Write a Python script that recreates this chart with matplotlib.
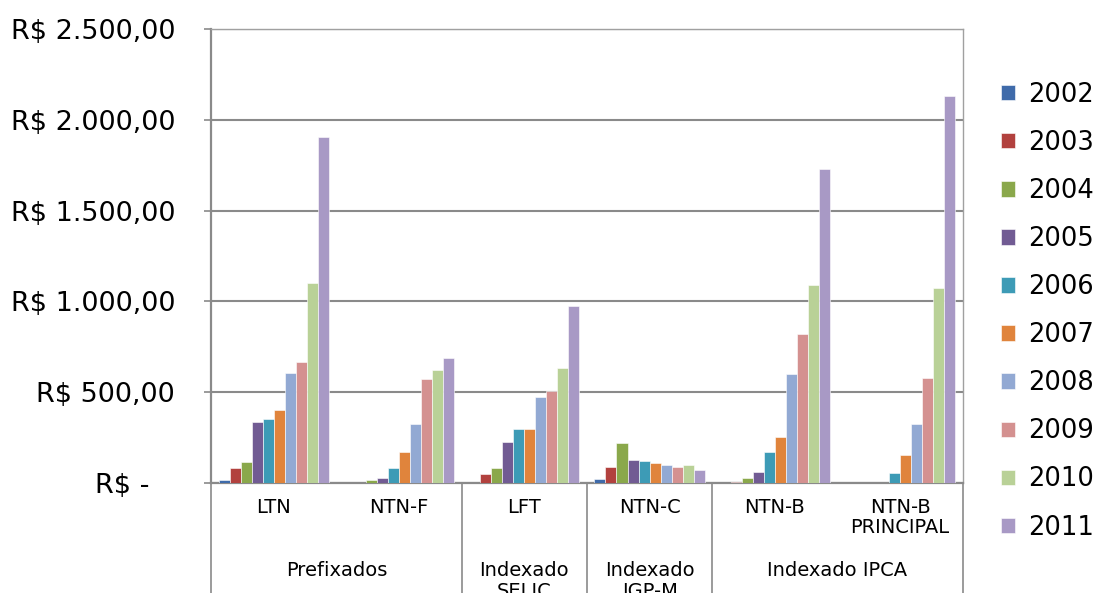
import numpy as np
import matplotlib.pyplot as plt

# -------------------------------------------------------------------
# Data
# -------------------------------------------------------------------
categories = ["LTN", "NTN-F", "LFT", "NTN-C", "NTN-B", "NTN-B\nPRINCIPAL"]
groups = ["Prefixados", "Indexado\nSELIC", "Indexado\nIGP-M", "Indexado IPCA"]
group_centers = [0.5, 2.0, 3.0, 4.5]
group_bounds = [-0.5, 1.5, 2.5, 3.5, 5.5]

years = ["2002", "2003", "2004", "2005", "2006",
         "2007", "2008", "2009", "2010", "2011"]

v2002 = [15, 0, 0, 20, 0, 0]
v2003 = [85, 0, 50, 90, 7, 0]
v2004 = [114, 15, 85, 219, 28, 0]
v2005 = [338, 29, 226, 127, 63, 0]
v2006 = [355, 85, 296, 119, 169, 57]
v2007 = [403, 169, 296, 112, 256, 156]
v2008 = [607, 325, 474, 99, 601, 325]
v2009 = [664, 574, 509, 90, 820, 579]
v2010 = [1103, 623, 636, 99, 1088, 1074]
v2011 = [1905, 691, 976, 70, 1729, 2133]
values = [v2002, v2003, v2004, v2005, v2006, v2007, v2008, v2009, v2010, v2011]

colors = ["#3F6BAA", "#B2413E", "#8AA84B", "#715B93", "#3D9BB6",
          "#E0843C", "#92A9D3", "#D49190", "#B9D197", "#A899C5"]

yticks = [0, 500, 1000, 1500, 2000, 2500]
# accounting format: the "-" for zero keeps trailing padding
ytick_labels = ["R$ -   ", "R$ 500,00", "R$ 1.000,00", "R$ 1.500,00",
                "R$ 2.000,00", "R$ 2.500,00"]

# -------------------------------------------------------------------
# Figure
# -------------------------------------------------------------------
fig = plt.figure(figsize=(10.94, 5.93), dpi=100)
ax = fig.add_axes([0.193, 0.1855, 0.687, 0.7655])

x = np.arange(len(categories))
n = len(years)
bar_w = 0.088
for k, (yr, vals, col) in enumerate(zip(years, values, colors)):
    offs = (k - (n - 1) / 2) * bar_w
    ax.bar(x + offs, vals, width=bar_w, color=col, label=yr,
           edgecolor="white", linewidth=0.4, zorder=3)

ax.set_xlim(-0.5, 5.5)
ax.set_ylim(0, 2500)
ax.set_yticks(yticks)
ax.set_yticklabels(ytick_labels, fontsize=19.5)
ax.set_xticks([])

grid_col = "#8a8a8a"
ax.yaxis.grid(True, color=grid_col, linewidth=1.5, zorder=0)
ax.tick_params(axis="y", length=5, color=grid_col, width=1.2, pad=21)
for s in ["top", "right"]:
    ax.spines[s].set_color("#a0a0a0")
    ax.spines[s].set_linewidth(1.0)
for s in ["left", "bottom"]:
    ax.spines[s].set_color(grid_col)
    ax.spines[s].set_linewidth(1.6)

# category table below the axis
trans = ax.get_xaxis_transform()
for b in group_bounds:
    ax.plot([b, b], [0, -0.3], transform=trans, color=grid_col,
            linewidth=1.2, clip_on=False)

for xi, cat in zip(x, categories):
    ax.text(xi, -0.033, cat, transform=trans, ha="center", va="top",
            fontsize=14, linespacing=1.1)

for gx, g in zip(group_centers, groups):
    ax.text(gx, -0.172, g, transform=trans, ha="center", va="top",
            fontsize=14, linespacing=1.1)

leg = ax.legend(loc="upper left", bbox_to_anchor=(1.02, 0.935), frameon=False,
                fontsize=18.5, handlelength=0.55, handleheight=0.55,
                labelspacing=0.86, handletextpad=0.5)

fig.savefig("out.png", dpi=100)
